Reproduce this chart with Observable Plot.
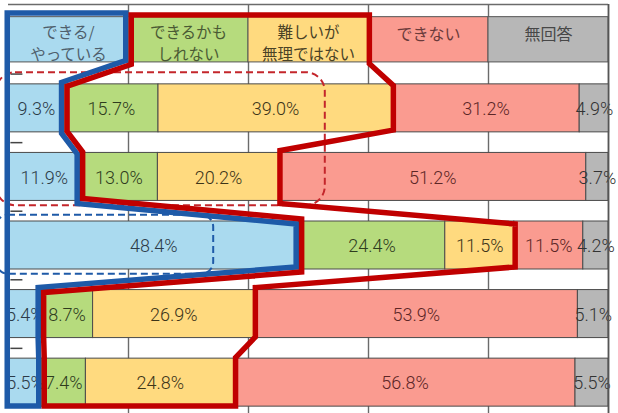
<!DOCTYPE html>
<html><head><meta charset="utf-8">
<script src="https://cdn.jsdelivr.net/npm/d3@7"></script>
<script src="https://cdn.jsdelivr.net/npm/@observablehq/plot@0.6"></script>
<style>
html,body{margin:0;padding:0;background:#fff;}
#chart svg{display:block;}
</style>
</head><body><div id="chart"></div>
<script>
// ---- data ----
const categories = ["できる/\nやっている", "できるかも\nしれない", "難しいが\n無理ではない", "できない", "無回答"];
const rows = [1, 2, 3, 4, 5];
const canDo = [9.3, 11.9, 48.4, 5.4, 5.5];
const mightDo = [15.7, 13.0, 24.4, 8.7, 7.4];
const hardButPossible = [39.0, 20.2, 11.5, 26.9, 24.8];
const cannot = [31.2, 51.2, 11.5, 53.9, 56.8];
const noAnswer = [4.9, 3.7, 4.2, 5.1, 5.5];
const headerBounds = [0, 20, 40, 60, 80, 100];

// ---- styles ----
const fillColors = ["#aadaef", "#b6db7d", "#ffda7f", "#fa9b90", "#b7b7b7"];
const textColors = ["#2c3a48", "#2f3c1e", "#3d3519", "#5c2626", "#333333"];
const headerText = ["#4f5f6c", "#4a5a34", "#4a4226", "#6a3a3a", "#474747"];
const BLUE = "#1e5aa8", RED = "#c00000";

// ---- build tables ----
const series = [canDo, mightDo, hardButPossible, cannot, noAnswer];
const segments = [];
rows.forEach((r, i) => {
  let acc = 0;
  series.forEach((s, k) => {
    segments.push({row: r, k, x1: acc, x2: acc + s[i], value: s[i]});
    acc += s[i];
  });
});
const header = categories.map((label, k) => ({k, label, x1: headerBounds[k], x2: headerBounds[k + 1]}));

const HH = 0.33, BH = 0.35;
const last = rows.length - 1;
const c1 = canDo;
const c3 = rows.map((_, i) => canDo[i] + mightDo[i] + hardButPossible[i]);
const TOPB = -0.43, TOPR = -0.40, BOT = 5.38, LEFT = -0.67, PAD = 0.6;

const bluePts = [{x: LEFT, y: TOPB}, {x: headerBounds[1], y: TOPB}, {x: headerBounds[1], y: HH}];
rows.forEach((r, i) => {
  bluePts.push({x: c1[i], y: r - BH}, {x: c1[i], y: i === last ? BOT : r + BH});
});
bluePts.push({x: LEFT, y: BOT}, {x: LEFT, y: TOPB});

const redPts = [{x: headerBounds[1], y: TOPR}, {x: headerBounds[3] + PAD, y: TOPR}, {x: headerBounds[3] + PAD, y: HH}];
rows.forEach((r, i) => {
  redPts.push({x: c3[i] + PAD, y: r - BH}, {x: c3[i] + PAD, y: i === last ? BOT : r + BH});
});
for (let i = last; i >= 0; i--) {
  const r = rows[i];
  redPts.push({x: c1[i], y: i === last ? BOT : r + BH}, {x: c1[i], y: r - BH});
}
redPts.push({x: headerBounds[1], y: HH}, {x: headerBounds[1], y: TOPR});

// dashed highlight boxes (around rows 1-2 and row 3)
const dashedRed = [{x1: -2, x2: 52.8, y1: (rows[0] + rows[1]) / 2 - 1.02, y2: (rows[0] + rows[1]) / 2 + 0.92}];
const dashedBlue = [{x1: -2, x2: 34.2, y1: rows[2] - 0.44, y2: rows[2] + 0.42}];
const rowTicks = rows.map(r => r - 0.5);

const chart = Plot.plot({
  width: 618, height: 413,
  marginLeft: 8, marginRight: 10, marginTop: 5, marginBottom: 0,
  x: {domain: [0, 100], axis: null},
  y: {domain: [-0.5, 5.45], reverse: true, axis: null},
  color: {type: "identity"},
  style: {background: "#fff", overflow: "visible"},
  marks: [
    Plot.ruleX(headerBounds.slice(1), {y1: -0.515, y2: 5.45, stroke: "#6b6b6b", strokeWidth: 1.4}),
    Plot.ruleY([-0.515], {x1: 0, x2: 100, stroke: "#6b6b6b", strokeWidth: 1.4}),
    Plot.rect(header, {x1: "x1", x2: "x2", y1: d => -HH, y2: d => HH, fill: d => fillColors[d.k], stroke: "#555", strokeWidth: 1}),
    Plot.rect(segments, {x1: "x1", x2: "x2", y1: d => d.row - BH, y2: d => d.row + BH, fill: d => fillColors[d.k], stroke: "#4a4a4a", strokeWidth: 1}),
    Plot.text(header.filter(d => d.label.includes("\n")), {x: d => (d.x1 + d.x2) / 2, y: d => 0, text: "label", fill: d => headerText[d.k], fontSize: 15.5, lineHeight: 1.45, fontFamily: "Noto Sans CJK JP", dy: 2}),
    Plot.text(header.filter(d => !d.label.includes("\n")), {x: d => (d.x1 + d.x2) / 2, y: d => 0, text: "label", fill: d => headerText[d.k], fontSize: 16, fontFamily: "Noto Sans CJK JP", dy: -5}),
    Plot.text(segments, {x: d => (d.x1 + d.x2) / 2, y: "row", text: d => d.value.toFixed(1) + "%", fill: d => textColors[d.k], fontSize: 18, fontWeight: 300, fontFamily: "Roboto", dy: 1}),
    Plot.ruleY(rowTicks, {x1: 0.4, x2: 2.4, stroke: "#444", strokeWidth: 1.5}),
    Plot.rect(dashedRed, {x1: "x1", x2: "x2", y1: "y1", y2: "y2", fill: "none", stroke: "#c4262b", strokeWidth: 2, strokeDasharray: "7,4", rx: 19}),
    Plot.rect(dashedBlue, {x1: "x1", x2: "x2", y1: "y1", y2: "y2", fill: "none", stroke: BLUE, strokeWidth: 2, strokeDasharray: "7,4", rx: 12}),
    Plot.line(bluePts, {x: "x", y: "y", stroke: BLUE, strokeWidth: 11, strokeLinejoin: "miter", strokeMiterlimit: 10}),
    Plot.line(redPts, {x: "x", y: "y", stroke: RED, strokeWidth: 11, strokeLinejoin: "miter", strokeMiterlimit: 10}),
    Plot.ruleX([100], {y1: -0.515, y2: 5.45, stroke: "#555", strokeWidth: 1.6})
  ]
});
document.getElementById("chart").appendChild(chart);

// clip the thick outlines to their own shapes so the strokes sit inside each region
const svg = d3.select(chart);
const defs = svg.append("defs");
svg.selectAll('g[aria-label="line"] path').each(function(_, j) {
  const id = `outline-clip-${j}`;
  defs.append("clipPath").attr("id", id).append("path").attr("d", d3.select(this).attr("d"));
  d3.select(this).attr("clip-path", `url(#${id})`);
});
</script>
</body></html>
